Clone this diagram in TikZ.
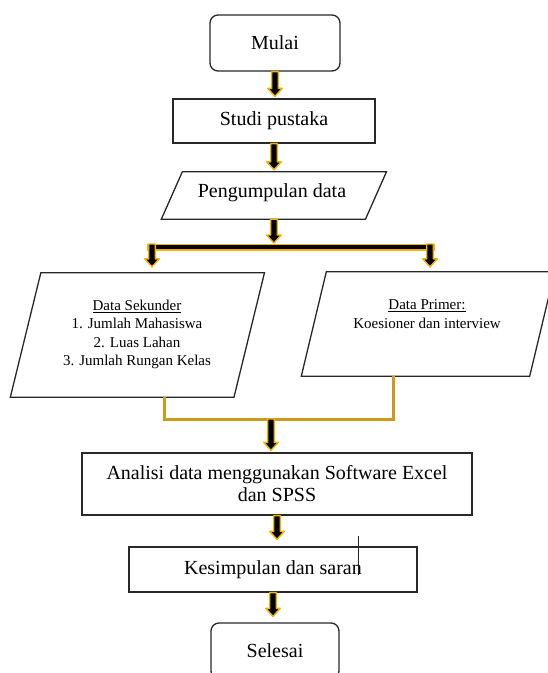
\documentclass[tikz,border=0pt]{standalone}
\usepackage{fontspec}
\setmainfont{Liberation Serif}
\usetikzlibrary{calc}
\definecolor{arrowgold}{RGB}{240,180,0}
\definecolor{conngold}{RGB}{205,155,25}
\definecolor{edge}{RGB}{40,40,40}
\begin{document}
\begin{tikzpicture}[x=1pt,y=-1pt,
  box/.style={draw=edge, line width=1.3pt, inner sep=0pt, align=center,
    font=\fontsize{20}{22}\selectfont},
  area/.style={inner sep=0pt, align=center},
  outline/.style={draw=edge, line width=1.3pt, line join=miter},
  small/.style={align=center, font=\fontsize{15}{18.3}\selectfont},
  connline/.style={draw=conngold, line width=3pt},
  fatarrow/.style={fill=black, draw=arrowgold, line width=1.4pt, line join=round,
    to path={let \p1=(\tikztostart), \p2=(\tikztotarget) in
      (\x1-3.3pt,\y1) -- (\x1-3.3pt,\y2+#1+8pt) -- (\x1-7.3pt,\y2+#1+8pt)
      -- (\x1,\y2+#1) -- (\x1+7.3pt,\y2+#1+8pt) -- (\x1+3.3pt,\y2+#1+8pt)
      -- (\x1+3.3pt,\y1) -- cycle}},
  fatarrow/.default=1pt]
\useasboundingbox (0,0) rectangle (548,673);
\clip (0,0) rectangle (548,673);

% process boxes
\node[box, minimum width=130pt, minimum height=56pt, rounded corners=8pt] (mulai) at (275,43) {Mulai};
\node[box, minimum width=202pt, minimum height=44pt] (studi) at (274,121) {Studi pustaka};

% input/output parallelograms (rectangular node body, slanted outline)
\node[area, minimum width=203.75pt, minimum height=47pt] (peng) at (273.9,195.5) {};
\draw[outline] ([xshift=10.5pt]peng.north west) -- ([xshift=10.5pt]peng.north east)
  -- ([xshift=-10.5pt]peng.south east) -- ([xshift=-10.5pt]peng.south west) -- cycle;
\node[font=\fontsize{20}{22}\selectfont] (pengtext) at (272,193) {Pengumpulan data};

\node[area, minimum width=223.25pt, minimum height=124pt] (sek) at (137.4,335) {};
\draw[outline] ([xshift=15.25pt]sek.north west) -- ([xshift=15.25pt]sek.north east)
  -- ([xshift=-15.25pt]sek.south east) -- ([xshift=-15.25pt]sek.south west) -- cycle;
\node[small] (sektext) at (137,334.5) {\underline{Data Sekunder}\\1. Jumlah Mahasiswa\\2. Luas Lahan\\3. Jumlah Rungan Kelas};

\node[area, minimum width=228pt, minimum height=104pt] (prim) at (428,324) {};
\draw[outline] ([xshift=12.5pt]prim.north west) -- ([xshift=12.5pt]prim.north east)
  -- ([xshift=-12.5pt]prim.south east) -- ([xshift=-12.5pt]prim.south west) -- cycle;
\node[small] (primtext) at (427,314) {\underline{Data Primer:}\\Koesioner dan interview};

\node[box, minimum width=390pt, minimum height=62pt] (ana) at (277,484)
  {Analisi data menggunakan Software Excel\\dan SPSS};
\node[box, minimum width=288pt, minimum height=45pt] (kes) at (273,569.5) {Kesimpulan dan saran};
\node[box, minimum width=128pt, minimum height=56pt, rounded corners=8pt] (sel) at (275,651) {Selesai};

% text cursor mark across the last box
\draw[edge, line width=0.8pt] (358,536) -- (358,575);

% branching bar
\coordinate (barL) at (148,247);
\coordinate (barR) at (434,247);
\filldraw[fill=black, draw=arrowgold, line width=1.4pt] ([yshift=2.8pt]barL) rectangle ([yshift=-2.8pt]barR);
\coordinate (armL) at (152,244);
\coordinate (armR) at (430,244);

% merging lines
\coordinate (sekout) at ([xshift=26.6pt]sek.south);
\coordinate (primout) at ([xshift=-35pt]prim.south);
\coordinate (join) at (271,419);
\draw[connline] (sekout) -- (sekout |- join) -- (primout |- join) -- (primout);

% arrows
\draw[fatarrow=2pt] (mulai.south) to (mulai.south |- studi.north);
\draw[fatarrow=2pt] (studi.south) to (studi.south |- peng.north);
\draw[fatarrow=4pt] (peng.south) to (peng.south |- barL);
\draw[fatarrow=6pt] (armL) to (armL |- sek.north);
\draw[fatarrow=5pt] (armR) to (armR |- prim.north);
\draw[fatarrow=2pt] (join) to (join |- ana.north);
\draw[fatarrow=7pt] (ana.south) to (ana.south |- kes.north);
\draw[fatarrow=6pt] (kes.south) to (kes.south |- sel.north);
\end{tikzpicture}
\end{document}
